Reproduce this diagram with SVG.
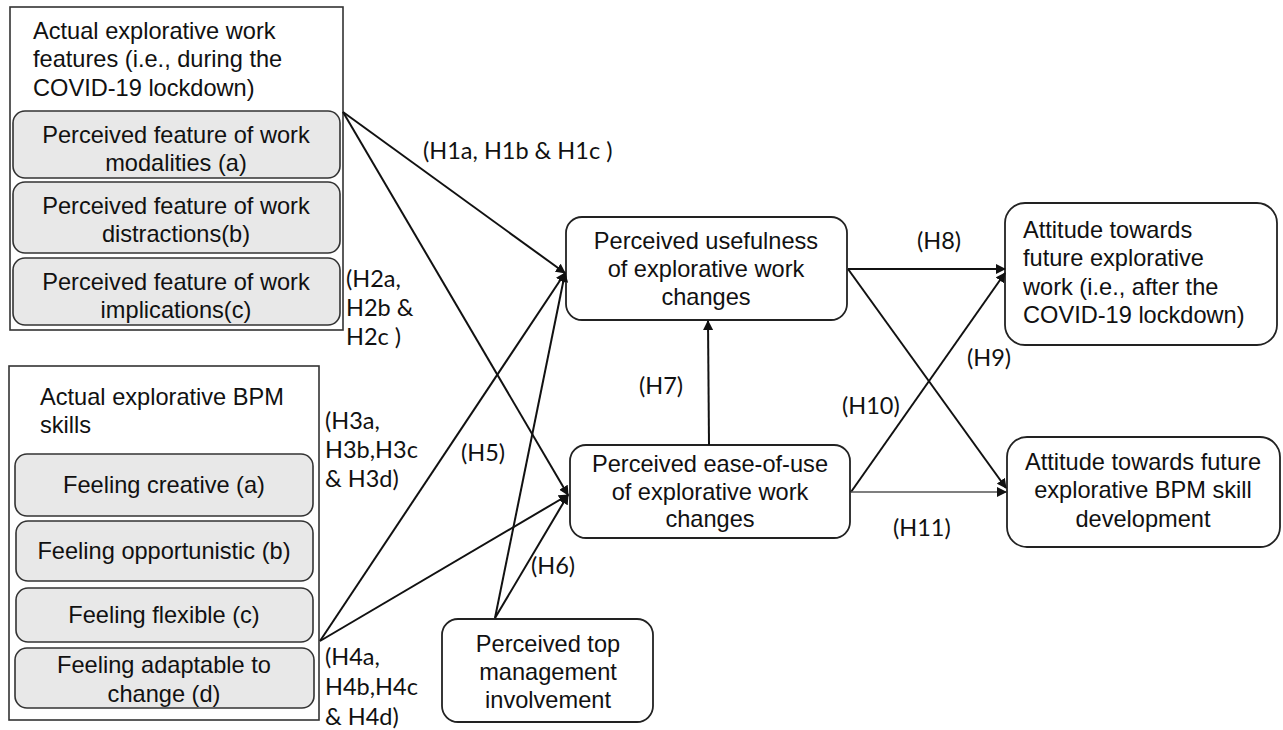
<svg xmlns="http://www.w3.org/2000/svg" width="1283" height="730" viewBox="0 0 1283 730">
<defs>
<style>
.box{fill:#ffffff;stroke:#333;stroke-width:1.6}
.inner{fill:#e8e8e8;stroke:#333;stroke-width:1.6}
.node{fill:#ffffff;stroke:#222;stroke-width:1.8}
.t{font-family:"Liberation Sans",Arial,sans-serif;font-size:23.6px;fill:#111}
.c{text-anchor:middle}
.h{font-family:Lato,"Open Sans",sans-serif;font-size:23.5px;fill:#111}
.ln{stroke:#111;stroke-width:2;fill:none}
.thin{stroke:#555;stroke-width:1.3;fill:none}
</style>
<marker id="ah" viewBox="0 0 10 10" refX="9" refY="5" markerWidth="10" markerHeight="10" markerUnits="userSpaceOnUse" orient="auto">
<path d="M0,0 L10,5 L0,10 z" fill="#111"/>
</marker>
</defs>
<rect width="1283" height="730" fill="#ffffff"/>

<g id="work-features">
<rect class="box" x="10" y="7" width="333" height="323"/>
<text class="t" x="33" y="39">Actual explorative work</text>
<text class="t" x="33" y="67">features (i.e., during the</text>
<text class="t" x="33" y="96">COVID-19 lockdown)</text>
</g>
<g id="modalities">
<rect class="inner" x="13" y="111" width="327" height="67" rx="12"/>
<text class="t c" x="176" y="143">Perceived feature of work</text>
<text class="t c" x="176" y="171">modalities (a)</text>
</g>
<g id="distractions">
<rect class="inner" x="13" y="182" width="327" height="71" rx="12"/>
<text class="t c" x="176" y="214">Perceived feature of work</text>
<text class="t c" x="176" y="242">distractions(b)</text>
</g>
<g id="implications">
<rect class="inner" x="13" y="258" width="327" height="67" rx="12"/>
<text class="t c" x="176" y="290">Perceived feature of work</text>
<text class="t c" x="176" y="318">implications(c)</text>
</g>

<g id="bpm-skills">
<rect class="box" x="9" y="366" width="310" height="354"/>
<text class="t" x="40" y="405">Actual explorative BPM</text>
<text class="t" x="40" y="433">skills</text>
</g>
<g id="creative">
<rect class="inner" x="15" y="454" width="298" height="62" rx="12"/>
<text class="t c" x="164" y="493">Feeling creative (a)</text>
</g>
<g id="opportunistic">
<rect class="inner" x="16" y="521" width="297" height="60" rx="12"/>
<text class="t c" x="164" y="559">Feeling opportunistic (b)</text>
</g>
<g id="flexible">
<rect class="inner" x="16" y="588" width="297" height="54" rx="12"/>
<text class="t c" x="164" y="623">Feeling flexible (c)</text>
</g>
<g id="adaptable">
<rect class="inner" x="15" y="648" width="299" height="60" rx="12"/>
<text class="t c" x="164" y="673">Feeling adaptable to</text>
<text class="t c" x="164" y="702">change (d)</text>
</g>

<g id="usefulness">
<rect class="node" x="566" y="217" width="281" height="103" rx="16"/>
<text class="t c" x="706" y="249">Perceived usefulness</text>
<text class="t c" x="706" y="277">of explorative work</text>
<text class="t c" x="706" y="305">changes</text>
</g>
<g id="ease-of-use">
<rect class="node" x="570" y="445" width="280" height="93" rx="16"/>
<text class="t c" x="710" y="472">Perceived ease-of-use</text>
<text class="t c" x="710" y="500">of explorative work</text>
<text class="t c" x="710" y="527">changes</text>
</g>
<g id="top-management">
<rect class="node" x="442" y="619" width="211" height="103" rx="16"/>
<text class="t c" x="548" y="652">Perceived top</text>
<text class="t c" x="548" y="680">management</text>
<text class="t c" x="548" y="708">involvement</text>
</g>
<g id="attitude-work">
<rect class="node" x="1005" y="203" width="272" height="142" rx="20"/>
<text class="t" x="1023" y="238">Attitude towards</text>
<text class="t" x="1023" y="266">future explorative</text>
<text class="t" x="1023" y="295">work (i.e., after the</text>
<text class="t" x="1023" y="323">COVID-19 lockdown)</text>
</g>
<g id="attitude-skill">
<rect class="node" x="1007" y="437" width="273" height="110" rx="20"/>
<text class="t c" x="1143" y="470">Attitude towards future</text>
<text class="t c" x="1143" y="498">explorative BPM skill</text>
<text class="t c" x="1143" y="527">development</text>
</g>

<g id="connectors">
<line class="ln" x1="343" y1="112" x2="565" y2="273" marker-end="url(#ah)"/>
<line class="ln" x1="343" y1="112" x2="568" y2="495" marker-end="url(#ah)"/>
<line class="ln" x1="320" y1="641" x2="565" y2="273" marker-end="url(#ah)"/>
<line class="ln" x1="320" y1="641" x2="568" y2="495" marker-end="url(#ah)"/>
<line class="ln" x1="495" y1="618" x2="565" y2="273" marker-end="url(#ah)"/>
<line class="ln" x1="495" y1="618" x2="568" y2="495" marker-end="url(#ah)"/>
<line class="ln" x1="709" y1="445" x2="708" y2="321" marker-end="url(#ah)"/>
<line class="ln" x1="848" y1="269" x2="1005" y2="269" marker-end="url(#ah)"/>
<line class="ln" x1="848" y1="269" x2="1006" y2="488" marker-end="url(#ah)"/>
<line class="ln" x1="851" y1="492" x2="1005" y2="273" marker-end="url(#ah)"/>
<line class="thin" x1="851" y1="492" x2="1006" y2="492" marker-end="url(#ah)"/>
</g>

<g id="labels">
<text class="h" x="423" y="159">(H1a, H1b &amp; H1c )</text>
<text class="h" x="346" y="287">(H2a,</text>
<text class="h" x="346" y="316">H2b &amp;</text>
<text class="h" x="346" y="345">H2c )</text>
<text class="h" x="325" y="429">(H3a,</text>
<text class="h" x="325" y="458">H3b,H3c</text>
<text class="h" x="325" y="487">&amp; H3d)</text>
<text class="h" x="325" y="665">(H4a,</text>
<text class="h" x="325" y="695">H4b,H4c</text>
<text class="h" x="325" y="725">&amp; H4d)</text>
<text class="h" x="461" y="461">(H5)</text>
<text class="h" x="531" y="574">(H6)</text>
<text class="h" x="639" y="394">(H7)</text>
<text class="h" x="917" y="249">(H8)</text>
<text class="h" x="967" y="366">(H9)</text>
<text class="h" x="842" y="414">(H10)</text>
<text class="h" x="893" y="536">(H11)</text>
</g>
</svg>
